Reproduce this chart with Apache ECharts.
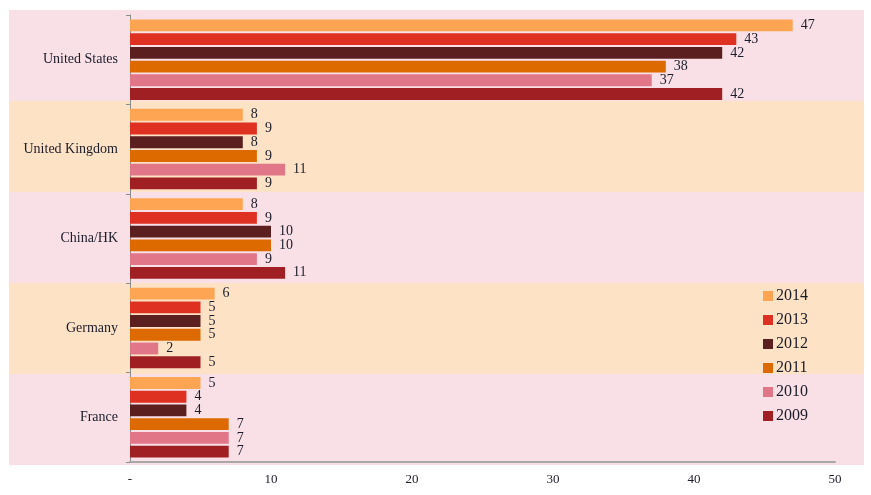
<!DOCTYPE html>
<html>
<head>
<meta charset="utf-8">
<script src="https://cdn.jsdelivr.net/npm/echarts@6/dist/echarts.min.js"></script>
<style>
  html, body { margin: 0; padding: 0; background: #fff; }
  #chart { width: 871px; height: 495px; }
</style>
</head>
<body>
<div id="chart"></div>
<script>
// categories top to bottom
const countries = ['United States', 'United Kingdom', 'China/HK', 'Germany', 'France'];

const years = ['2014', '2013', '2012', '2011', '2010', '2009'];
const v2014 = [47, 8, 8, 6, 5];
const v2013 = [43, 9, 9, 5, 4];
const v2012 = [42, 8, 10, 5, 4];
const v2011 = [38, 9, 10, 5, 7];
const v2010 = [37, 11, 9, 2, 7];
const v2009 = [42, 9, 11, 5, 7];
const values = [v2014, v2013, v2012, v2011, v2010, v2009];

const colors = ['#fea553', '#df3122', '#5c1f1f', '#dd6a00', '#e07688', '#a01f22'];
const bandColors = ['#f8e0e6', '#fde2c6'];

const font = '"Liberation Serif", "DejaVu Serif", serif';
const textColor = '#1b1b2a';

const chart = echarts.init(document.getElementById('chart'));

const series = years.map((y, i) => ({
  name: y,
  type: 'bar',
  xAxisIndex: 0,
  yAxisIndex: 0,
  data: values[i],
  barGap: '16%',
  barCategoryGap: '10%',
  itemStyle: { color: colors[i] },
  label: {
    show: true,
    position: 'right',
    distance: 8,
    color: textColor,
    fontFamily: font,
    fontSize: 14
  },
  z: 3
}));

// empty series so the background grid gets drawn
series.push({
  type: 'bar',
  xAxisIndex: 1,
  yAxisIndex: 1,
  data: [],
  silent: true
});

chart.setOption({
  animation: false,
  color: colors,
  legend: {
    orient: 'vertical',
    left: 758,
    top: 283,
    itemWidth: 10,
    itemHeight: 10,
    itemGap: 8,
    icon: 'rect',
    data: years,
    textStyle: { fontFamily: font, fontSize: 16, color: textColor, padding: [0, 0, 0, -2] }
  },
  grid: [
    { left: 130, right: 36, top: 15, bottom: 33 },
    { left: 9, right: 7, top: 10, bottom: 30, z: 0 }
  ],
  xAxis: [
    {
      gridIndex: 0,
      type: 'value',
      min: 0,
      max: 50,
      interval: 10,
      axisLine: { show: true, lineStyle: { color: '#a8a8a8', width: 2 } },
      axisTick: { show: false },
      splitLine: { show: false },
      axisLabel: {
        margin: 11,
        color: textColor,
        fontFamily: font,
        fontSize: 13,
        formatter: v => v === 0 ? '-' : v
      }
    },
    {
      gridIndex: 1,
      type: 'value',
      show: false,
      splitLine: { show: false }
    }
  ],
  yAxis: [
    {
      gridIndex: 0,
      type: 'category',
      inverse: true,
      data: countries,
      axisLine: { show: true, lineStyle: { color: '#8c8c8c', width: 1 } },
      axisTick: { show: true, length: 4, lineStyle: { color: '#8c8c8c' } },
      axisLabel: {
        margin: 12,
        color: textColor,
        fontFamily: font,
        fontSize: 14
      }
    },
    {
      gridIndex: 1,
      type: 'category',
      inverse: true,
      data: countries,
      axisLine: { show: false },
      axisTick: { show: false },
      axisLabel: { show: false },
      splitArea: { show: true, areaStyle: { color: bandColors } }
    }
  ],
  series: series
});
</script>
</body>
</html>
